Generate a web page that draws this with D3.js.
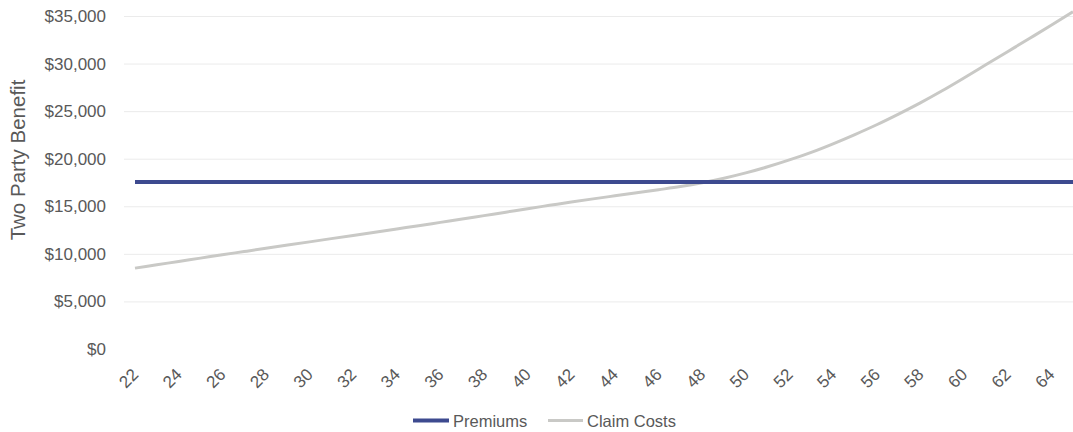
<!DOCTYPE html>
<html>
<head>
<meta charset="utf-8">
<script src="https://cdn.jsdelivr.net/npm/d3@7"></script>
<style>
  html, body { margin: 0; padding: 0; background: #fff; }
  svg { display: block; font-family: "Liberation Sans", Arial, sans-serif; }
</style>
</head>
<body>
<svg id="chart" width="1073" height="432"></svg>
<script>
// ---- data ----
const ages = [22,23,24,25,26,27,28,29,30,31,32,33,34,35,36,37,38,39,40,41,42,43,
              44,45,46,47,48,49,50,51,52,53,54,55,56,57,58,59,60,61,62,63,64,65];
const premiums = [17550,17550,17550,17550,17550,17550,17550,17550,17550,17550,17550,
                  17550,17550,17550,17550,17550,17550,17550,17550,17550,17550,17550,
                  17550,17550,17550,17550,17550,17550,17550,17550,17550,17550,17550,
                  17550,17550,17550,17550,17550,17550,17550,17550,17550,17550,17550];
const claimCosts = [8500,8850,9200,9550,9900,10240,10580,10920,11260,11600,11940,12280,
                    12620,12960,13310,13660,14020,14380,14750,15100,15450,15780,
                    16100,16420,16740,17070,17470,17950,18510,19150,19870,20670,
                    21570,22540,23570,24690,25870,27140,28490,29870,31250,32630,34020,35450];
const xTickLabels = [22,24,26,28,30,32,34,36,38,40,42,44,46,48,50,52,54,56,58,60,62,64];
const yTicks = [0,5000,10000,15000,20000,25000,30000,35000];
const seriesNames = ["Premiums", "Claim Costs"];
const seriesColors = ["#3d4a8f", "#c9c9c6"];

// ---- layout ----
const svg = d3.select("#chart");
const W = 1073, H = 432;
const plotLeft = 124, plotRight = 1073;
const x = d3.scalePoint().domain(ages).range([135, 1073]);
const y = d3.scaleLinear().domain([0, 35000]).range([349, 16]);
const textColor = "#595959";

svg.append("rect").attr("width", W).attr("height", H).attr("fill", "#fff");

// gridlines
const grid = svg.append("g")
  .attr("transform", `translate(${plotLeft},0)`)
  .call(d3.axisLeft(y).tickValues(yTicks.filter(d => d > 0)).tickSize(-(plotRight - plotLeft)).tickFormat(""));
grid.select(".domain").remove();
grid.selectAll("line").attr("stroke", "#ebebeb").attr("stroke-width", 1);

// y axis labels
const yAxis = svg.append("g")
  .attr("transform", "translate(110,0)")
  .call(d3.axisLeft(y).tickValues(yTicks).tickSize(0).tickPadding(4).tickFormat(d3.format("$,")));
yAxis.select(".domain").remove();
yAxis.selectAll("text")
  .attr("fill", textColor)
  .style("font-size", "17px")
  .style("font-family", "'Liberation Sans', Arial, sans-serif");

// x axis labels
const xAxis = svg.append("g")
  .attr("transform", "translate(0,365)")
  .call(d3.axisBottom(x).tickValues(xTickLabels).tickSize(0));
xAxis.select(".domain").remove();
xAxis.selectAll("text")
  .attr("y", 0).attr("x", 0).attr("dy", "0.35em")
  .attr("text-anchor", "middle")
  .attr("transform", "translate(-7,13) rotate(-45)")
  .attr("fill", textColor)
  .style("font-size", "17px")
  .style("font-family", "'Liberation Sans', Arial, sans-serif");

// y axis title
svg.append("text")
  .attr("transform", "translate(25,160) rotate(-90)")
  .attr("text-anchor", "middle")
  .attr("fill", textColor)
  .style("font-size", "20.5px")
  .text("Two Party Benefit");

// lines
const line = d3.line().x((d, i) => x(ages[i])).y(d => y(d)).curve(d3.curveMonotoneX);
svg.append("path").datum(claimCosts)
  .attr("fill", "none").attr("stroke", seriesColors[1]).attr("stroke-width", 3)
  .attr("d", line);
svg.append("path").datum(premiums)
  .attr("fill", "none").attr("stroke", seriesColors[0]).attr("stroke-width", 4)
  .attr("d", line);

// legend
const legendItems = [
  { name: seriesNames[0], color: seriesColors[0], x1: 413, x2: 449, tx: 453, w: 4 },
  { name: seriesNames[1], color: seriesColors[1], x1: 548, x2: 583, tx: 587, w: 3 }
];
const lg = svg.append("g");
legendItems.forEach(it => {
  lg.append("line").attr("x1", it.x1).attr("x2", it.x2).attr("y1", 420.5).attr("y2", 420.5)
    .attr("stroke", it.color).attr("stroke-width", it.w);
  lg.append("text").attr("x", it.tx).attr("y", 421).attr("dy", "0.35em")
    .attr("fill", textColor).style("font-size", "16.5px").text(it.name);
});
</script>
</body>
</html>
